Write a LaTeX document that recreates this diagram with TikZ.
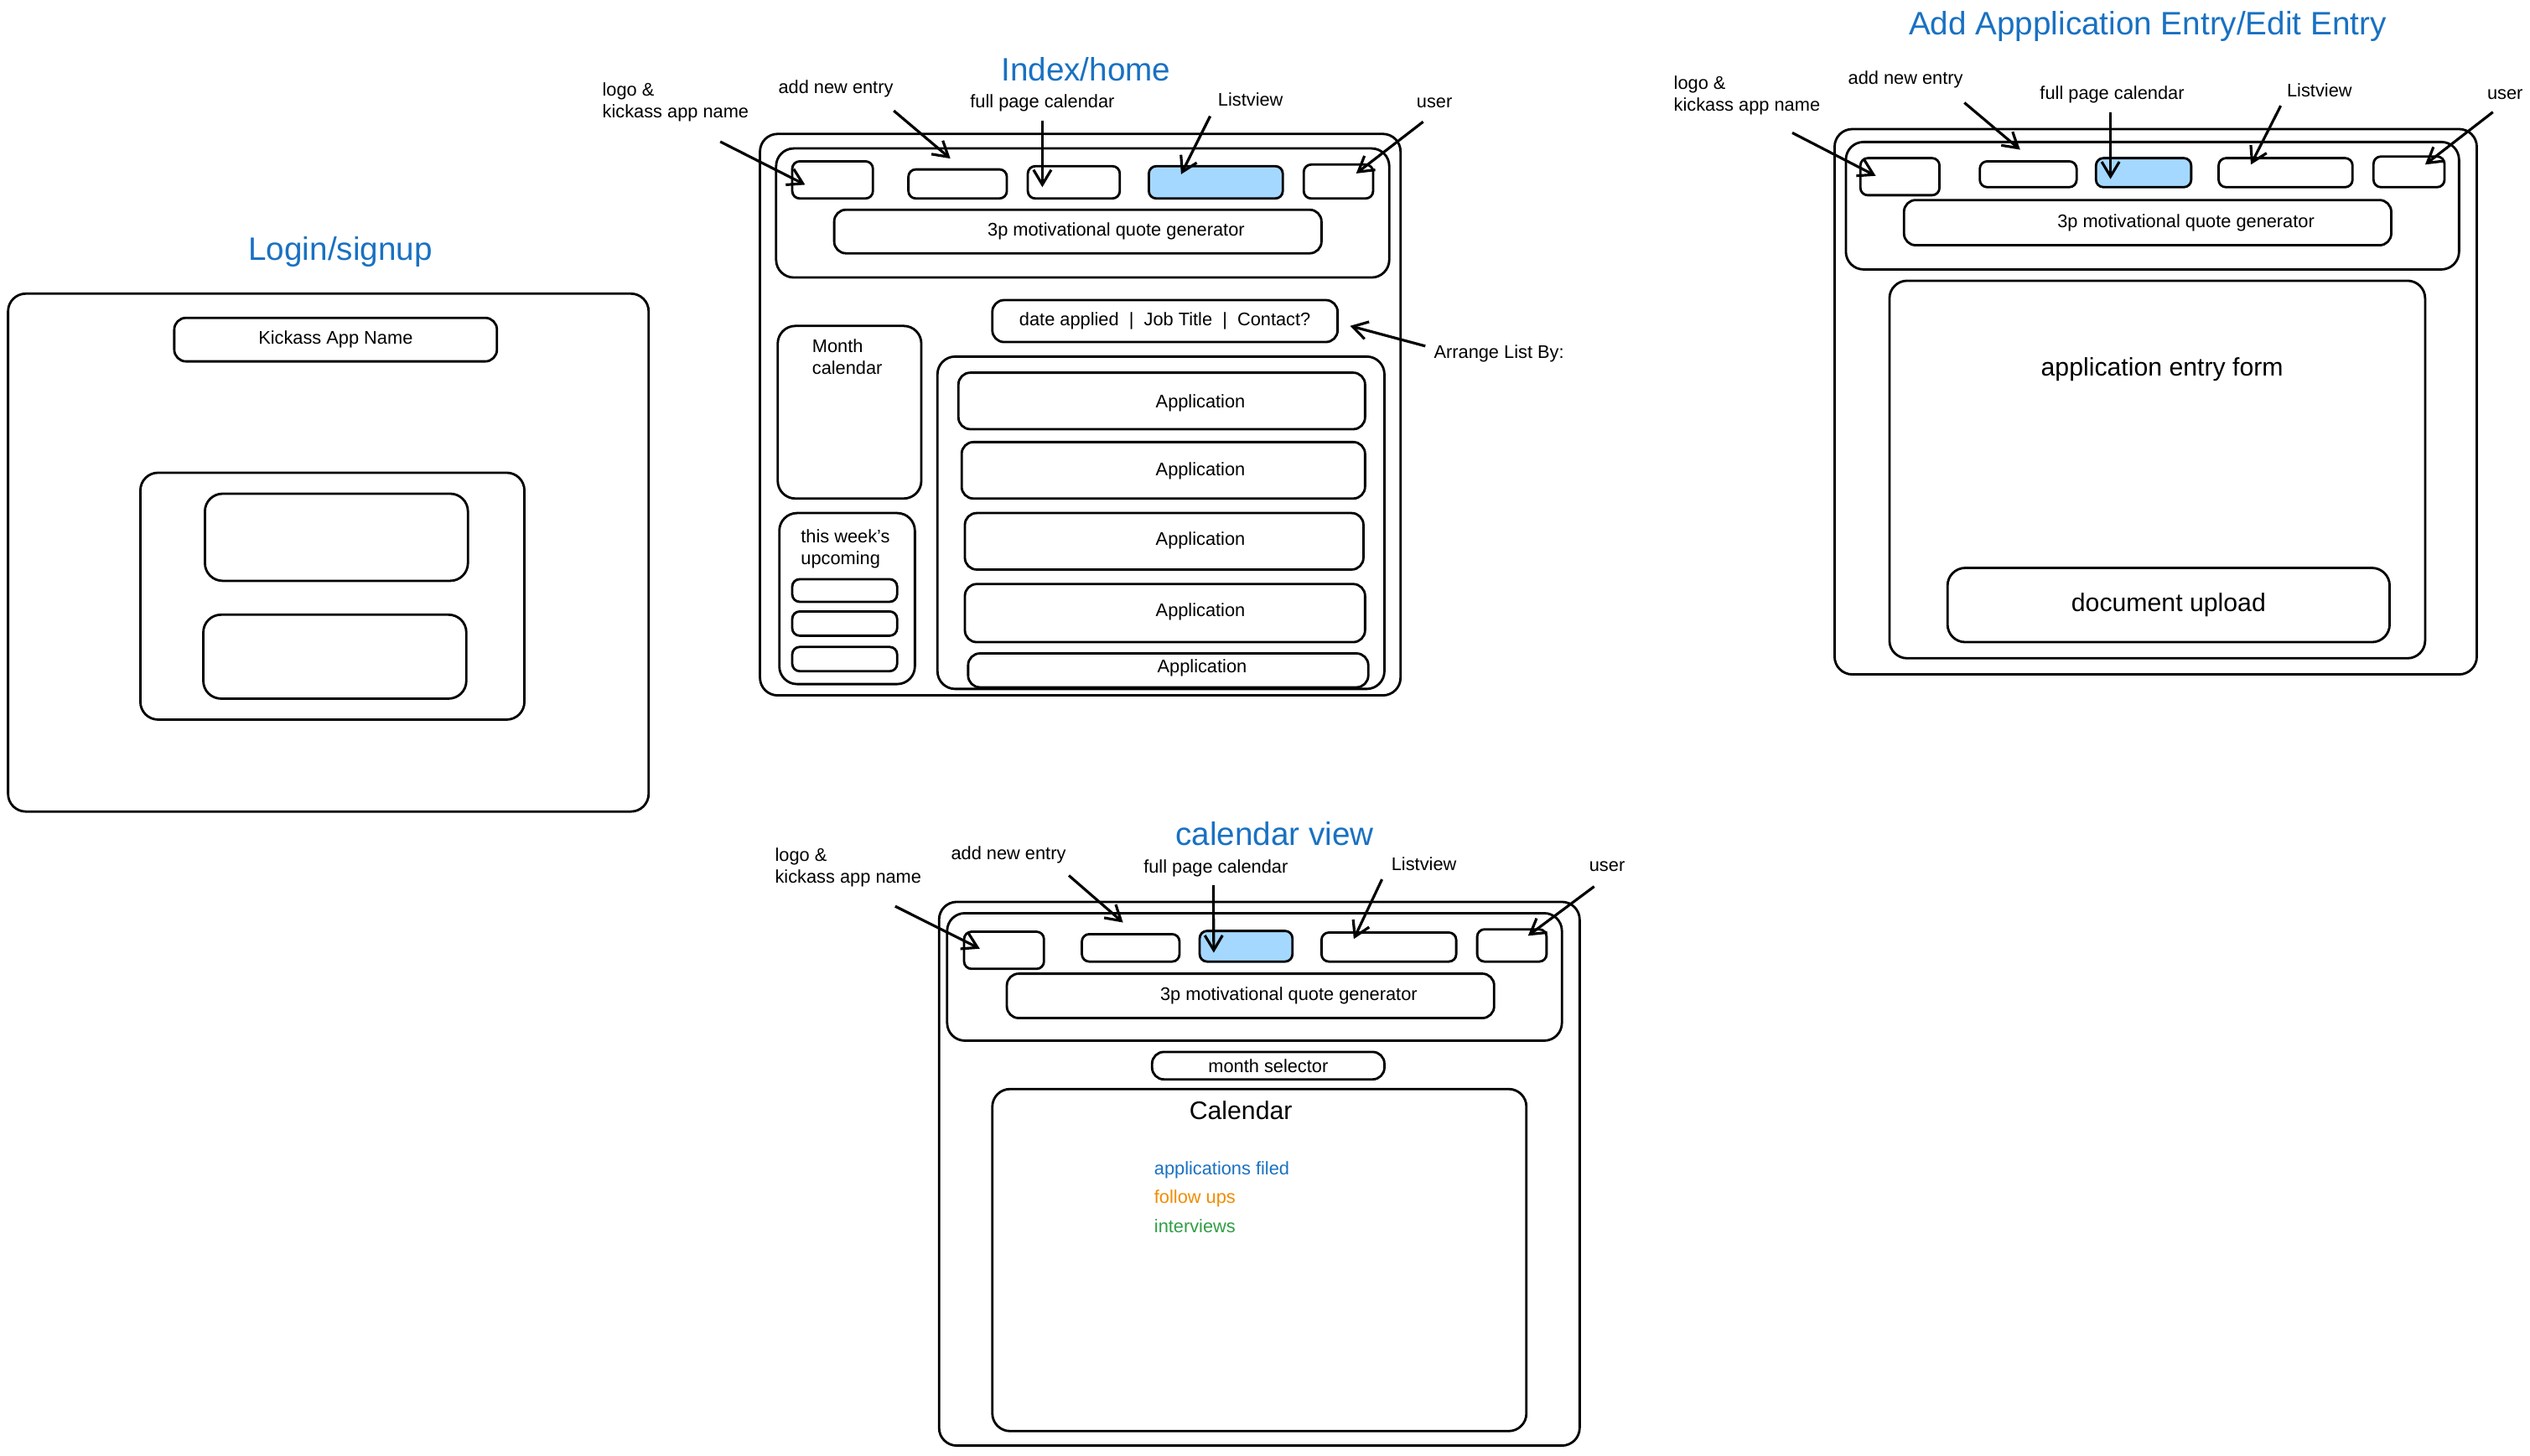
\documentclass[tikz,border=0pt]{standalone}
\usepackage{fontspec}
\setmainfont{Liberation Sans}
\usetikzlibrary{fit,calc,arrows.meta}
\definecolor{ttlblue}{HTML}{1971C2}
\definecolor{selblue}{HTML}{A5D8FF}
\definecolor{fuorange}{HTML}{F08C00}
\definecolor{ivgreen}{HTML}{2F9E44}
\newcommand{\smallfont}{\fontsize{6.2}{7.4}\selectfont}
\newcommand{\midfont}{\fontsize{8.6}{10}\selectfont}
\newcommand{\ttlfont}{\fontsize{11}{13}\selectfont}
\begin{document}
\begin{tikzpicture}[x=0.019247cm, y=-0.019247cm,
  page/.style={draw, line width=0.8pt, rounded corners=6pt, inner sep=0pt},
  box/.style={draw, line width=0.8pt, rounded corners=4pt, inner sep=0pt},
  btn/.style={draw, line width=0.8pt, rounded corners=2.5pt, inner sep=0pt},
  sel/.style={btn, fill=selblue},
  lbl/.style={inner sep=0pt, font=\smallfont, align=left},
  big/.style={inner sep=0pt, font=\midfont},
  ttl/.style={inner sep=0pt, font=\ttlfont, text=ttlblue},
  quote/.style={box, label={[lbl,xshift=13pt]center:3p motivational quote generator}},
  arr/.style={line width=0.9pt, -{Straight Barb[length=5pt,width=6pt]}}]
\useasboundingbox (0,0) rectangle (1568,902);

% login / signup
\node[ttl] (ltitle) at (211,156) {Login/signup};
\node[page, fit={(5,182) (402,503)}] (lpage) {};
\node[box, fit={(108,197) (308,224)}, label={[lbl]center:Kickass App Name}] (lname) {};
\node[page, fit={(87,293) (325,446)}] (lform) {};
\node[page, fit={(127,306) (290,360)}] (luser) {};
\node[page, fit={(126,381) (289,433)}] (lpass) {};

% index / home
\node[ttl] (ititle) at (673,43) {Index/home};
\node[page, fit={(471,83) (868,431)}] (ipage) {};
\node[page, fit={(481,92) (861,172)}] (ihead) {};
\node[btn, fit={(491,100) (541,123)}] (ilogo) {};
\node[btn, fit={(563,105) (624,123)}] (iadd) {};
\node[btn, fit={(637,103) (694,123)}] (ical) {};
\node[sel, fit={(712,103) (795,123)}] (ilist) {};
\node[btn, fit={(808,102) (851,123)}] (iuser) {};
\node[quote, fit={(517,130) (819,157)}] (iquote) {};
\node[box, fit={(615,186) (829,212)}, label={[lbl]center:date applied~~|~~Job Title~~|~~Contact?}] (isort) {};
\node[page, fit={(482,202) (571,309)}] (imonth) {};
\node[lbl, anchor=north west] (imonthL) at (503,210) {Month\\calendar};
\node[page, fit={(483,318) (567,424)}] (iweek) {};
\node[lbl, anchor=north west] (iweekL) at (496,328) {this week's\\upcoming};
\node[btn, fit={(491,359) (556,373)}] (iweek1) {};
\node[btn, fit={(491,379) (556,394)}] (iweek2) {};
\node[btn, fit={(491,401) (556,416)}] (iweek3) {};
\node[page, fit={(581,221) (858,427)}] (iapps) {};
\node[box, fit={(594,231) (846,266)}] (iapp1) {};
\node[box, fit={(596,274) (846,309)}] (iapp2) {};
\node[box, fit={(598,318) (845,353)}] (iapp3) {};
\node[box, fit={(598,362) (846,398)}] (iapp4) {};
\node[box, fit={(600,405) (848,426)}] (iapp5) {};
\node[lbl] (iapp1L) at (744,250) {Application};
\node[lbl] (iapp2L) at (744,292) {Application};
\node[lbl] (iapp3L) at (744,335) {Application};
\node[lbl] (iapp4L) at (744,379) {Application};
\node[lbl] (iapp5L) at (745,414) {Application};
\node[lbl, anchor=north west] (ilogoL) at (373,51) {logo \&\\kickass app name}; %label
\node[lbl] (iaddL) at (518,55) {add new entry}; %label
\node[lbl] (icalL) at (646,64) {full page calendar}; %label
\node[lbl] (ilistL) at (775,61.5) {Listview}; %label
\node[lbl] (iuserL) at (889,64) {user}; %label
\node[lbl] (iarrL) at (929,219) {Arrange List By:}; %label
\draw[arr] ($(ilogoL.south east)+(-18,12)$) -- ($(ilogo.center)+(-17,3)$);
\draw[arr] ($(iaddL.south east)+(0,8)$) -- ($(iadd.north)+(-4.5,-6)$);
\draw[arr] ($(icalL.south)+(0,5)$) -- ($(ical.center)+(-19.5,3)$);
\draw[arr] ($(ilistL.south west)+(-4.5,6)$) -- ($(ilist.center)+(-21.5,-5)$);
\draw[arr] ($(iuserL.south)+(-7,8)$) -- ($(iuser.center)+(11,-5)$);
\draw[arr] ($(iarrL.west)+(-5,-4.5)$) -- ($(isort.east)+(7,3)$);

% add / edit entry
\node[ttl] (atitle) at (1331,16.5) {Add Appplication Entry/Edit Entry};
\node[page, fit={(1137,80) (1535,418)}] (apage) {};
\node[page, fit={(1144,88) (1524,167)}] (ahead) {};
\node[btn, fit={(1153,98) (1202,121)}] (alogo) {};
\node[btn, fit={(1227,100) (1287,116)}] (aadd) {};
\node[sel, fit={(1299,98) (1358,116)}] (acal) {};
\node[btn, fit={(1375,98) (1458,116)}] (alist) {};
\node[btn, fit={(1471,97) (1515,116)}] (auser) {};
\node[quote, fit={(1180,124) (1482,152)}] (aquote) {};
\node[page, fit={(1171,174) (1503,408)}] (aform) {};
\node[big] (aformL) at (1340,229) {application entry form};
\node[page, fit={(1207,352) (1481,398)}, label={[big]center:document upload}] (aupload) {};
\node[lbl, anchor=north west] (alogoL) at (1037,47) {logo \&\\kickass app name}; %label
\node[lbl] (aaddL) at (1181,49.5) {add new entry}; %label
\node[lbl] (acalL) at (1309,58.5) {full page calendar}; %label
\node[lbl] (alistL) at (1437.5,56) {Listview}; %label
\node[lbl] (auserL) at (1552.5,58.5) {user}; %label
\draw[arr] ($(alogoL.south east)+(-17.6,10.5)$) -- ($(alogo.center)+(-15,-0.5)$);
\draw[arr] ($(aaddL.south east)+(0.5,8.5)$) -- ($(aadd.north)+(-5,-6.5)$);
\draw[arr] ($(acalL.south)+(-1,5.5)$) -- ($(acal.center)+(-20.5,4)$);
\draw[arr] ($(alistL.south west)+(-3.5,5)$) -- ($(alist.center)+(-21.5,-5)$);
\draw[arr] ($(auserL.south)+(-7.5,7.5)$) -- ($(auser.center)+(10,-4.5)$);

% calendar view
\node[ttl] (ctitle) at (790,517) {calendar view};
\node[page, fit={(582,559) (979,896)}] (cpage) {};
\node[page, fit={(587,566) (968,645)}] (chead) {};
\node[btn, fit={(597.5,577.5) (647,600.5)}] (clogo) {};
\node[btn, fit={(670.5,579) (731,596)}] (cadd) {};
\node[sel, fit={(743.5,577) (801,596)}] (ccal) {};
\node[btn, fit={(819,578) (902.5,596)}] (clist) {};
\node[btn, fit={(915.5,576) (958.5,596)}] (cuser) {};
\node[quote, fit={(624,603.5) (926,631)}] (cquote) {};
\node[box, fit={(714,652) (858,669)}, label={[lbl]center:month selector}] (cmonth) {};
\node[page, fit={(615,675) (946,887)}] (cgrid) {};
\node[big] (cgridL) at (769,688) {Calendar};
\node[lbl, anchor=west, text=ttlblue] (cfiled) at (715,725) {applications filed};
\node[lbl, anchor=west, text=fuorange] (cfollow) at (715,743) {follow ups};
\node[lbl, anchor=west, text=ivgreen] (cinter) at (715,760) {interviews};
\node[lbl, anchor=north west] (clogoL) at (480,525.5) {logo \&\\kickass app name}; %label
\node[lbl] (caddL) at (625,530) {add new entry}; %label
\node[lbl] (ccalL) at (753.5,538) {full page calendar}; %label
\node[lbl] (clistL) at (882.5,535.5) {Listview}; %label
\node[lbl] (cuserL) at (996,537) {user}; %label
\draw[arr] ($(clogoL.south east)+(-16.6,11.4)$) -- ($(clogo.center)+(-15,-1)$);
\draw[arr] ($(caddL.south east)+(1.5,7)$) -- ($(cadd.north)+(-4.75,-6.5)$);
\draw[arr] ($(ccalL.south)+(-1.5,5)$) -- ($(ccal.center)+(-20,4)$);
\draw[arr] ($(clistL.south west)+(-5.5,5)$) -- ($(clist.center)+(-21.75,-5)$);
\draw[arr] ($(cuserL.south)+(-8,9)$) -- ($(cuser.center)+(10,-6)$);
\end{tikzpicture}
\end{document}
